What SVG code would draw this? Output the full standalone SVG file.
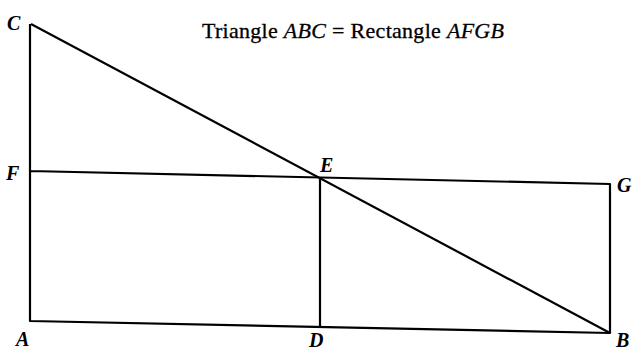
<svg xmlns="http://www.w3.org/2000/svg" width="633" height="352" viewBox="0 0 633 352">
<style>
.ln{stroke:#000;stroke-width:2.2;fill:none;stroke-linejoin:round}
.lb{font-family:"Liberation Serif",serif;font-style:italic;font-weight:bold;font-size:20px;fill:#000}
.t{font-family:"Liberation Serif",serif;font-size:22px;fill:#000;stroke:#000;stroke-width:0.3}
</style>
<rect width="633" height="352" fill="#fff"/>
<g id="lines">
<polyline class="ln" points="30,24 30,321 610,333 610,184 30,171"/>
<line class="ln" x1="31" y1="24" x2="610" y2="333"/>
<line class="ln" x1="320" y1="178" x2="320" y2="327"/>
</g>
<g id="labels">
<text class="lb" x="7" y="30">C</text>
<text class="lb" x="6" y="180">F</text>
<text class="lb" x="16" y="346">A</text>
<text class="lb" x="309" y="347">D</text>
<text class="lb" x="616" y="347">B</text>
<text class="lb" x="320" y="172">E</text>
<text class="lb" x="617" y="192">G</text>
</g>
<text class="t" x="202" y="38" textLength="302" lengthAdjust="spacing">Triangle <tspan font-style="italic">ABC</tspan> = Rectangle <tspan font-style="italic">AFGB</tspan></text>
</svg>
